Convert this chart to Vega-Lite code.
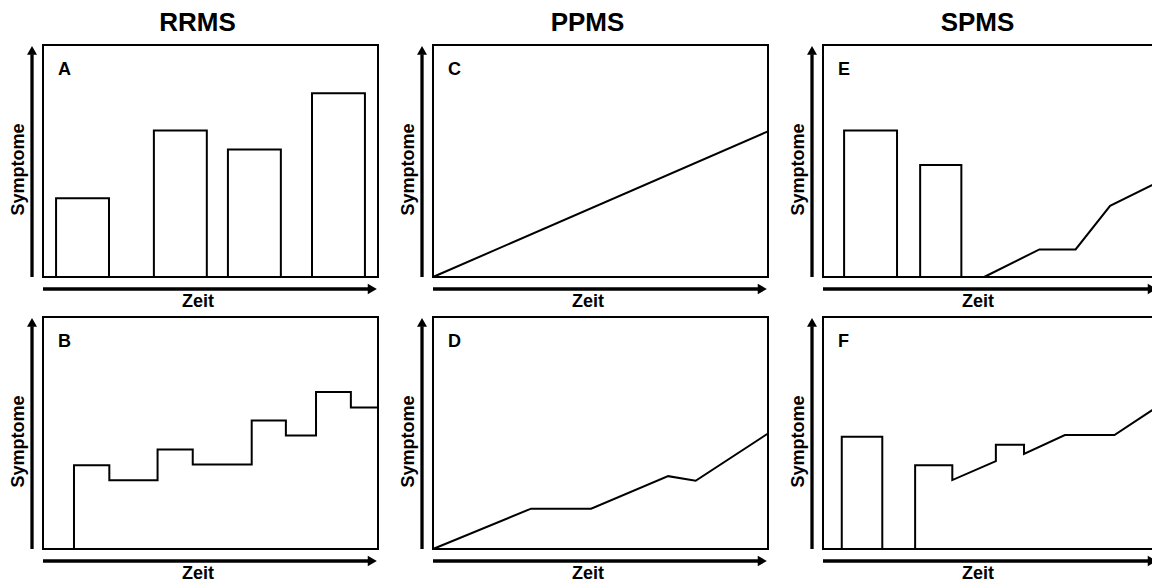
{
  "$schema": "https://vega.github.io/schema/vega-lite/v6.json",
  "padding": {"left": 9, "top": 10, "right": 0, "bottom": 0},
  "data": {"values": [
    {"type": "RRMS", "row": 1, "kind": "panel", "letter": "A"},
    {"type": "RRMS", "row": 2, "kind": "panel", "letter": "B"},
    {"type": "PPMS", "row": 1, "kind": "panel", "letter": "C"},
    {"type": "PPMS", "row": 2, "kind": "panel", "letter": "D"},
    {"type": "SPMS", "row": 1, "kind": "panel", "letter": "E"},
    {"type": "SPMS", "row": 2, "kind": "panel", "letter": "F"},
    {"type": "RRMS", "row": 1, "kind": "bar", "x": 3.9, "x2": 19.7, "y": 33.9},
    {"type": "RRMS", "row": 1, "kind": "bar", "x": 33.1, "x2": 48.9, "y": 63.1},
    {"type": "RRMS", "row": 1, "kind": "bar", "x": 55.2, "x2": 71.0, "y": 55.0},
    {"type": "RRMS", "row": 1, "kind": "bar", "x": 80.3, "x2": 96.1, "y": 79.2},
    {"type": "SPMS", "row": 1, "kind": "bar", "x": 6.3, "x2": 22.1, "y": 63.1},
    {"type": "SPMS", "row": 1, "kind": "bar", "x": 29.0, "x2": 41.3, "y": 48.3},
    {"type": "SPMS", "row": 2, "kind": "bar", "x": 5.6, "x2": 17.7, "y": 48.4},
    {"type": "RRMS", "row": 2, "kind": "line", "order": 1, "x": 9.25, "y": 0},
    {"type": "RRMS", "row": 2, "kind": "line", "order": 2, "x": 9.25, "y": 36.1},
    {"type": "RRMS", "row": 2, "kind": "line", "order": 3, "x": 19.8, "y": 36.1},
    {"type": "RRMS", "row": 2, "kind": "line", "order": 4, "x": 19.8, "y": 29.6},
    {"type": "RRMS", "row": 2, "kind": "line", "order": 5, "x": 34.2, "y": 29.6},
    {"type": "RRMS", "row": 2, "kind": "line", "order": 6, "x": 34.2, "y": 42.9},
    {"type": "RRMS", "row": 2, "kind": "line", "order": 7, "x": 44.7, "y": 42.9},
    {"type": "RRMS", "row": 2, "kind": "line", "order": 8, "x": 44.7, "y": 36.4},
    {"type": "RRMS", "row": 2, "kind": "line", "order": 9, "x": 62.3, "y": 36.4},
    {"type": "RRMS", "row": 2, "kind": "line", "order": 10, "x": 62.3, "y": 55.4},
    {"type": "RRMS", "row": 2, "kind": "line", "order": 11, "x": 72.5, "y": 55.4},
    {"type": "RRMS", "row": 2, "kind": "line", "order": 12, "x": 72.5, "y": 48.9},
    {"type": "RRMS", "row": 2, "kind": "line", "order": 13, "x": 81.5, "y": 48.9},
    {"type": "RRMS", "row": 2, "kind": "line", "order": 14, "x": 81.5, "y": 67.7},
    {"type": "RRMS", "row": 2, "kind": "line", "order": 15, "x": 91.9, "y": 67.7},
    {"type": "RRMS", "row": 2, "kind": "line", "order": 16, "x": 91.9, "y": 61.0},
    {"type": "RRMS", "row": 2, "kind": "line", "order": 17, "x": 100, "y": 61.0},
    {"type": "PPMS", "row": 1, "kind": "line", "order": 1, "x": 0, "y": 0},
    {"type": "PPMS", "row": 1, "kind": "line", "order": 2, "x": 100, "y": 62.8},
    {"type": "PPMS", "row": 2, "kind": "line", "order": 1, "x": 0, "y": 0},
    {"type": "PPMS", "row": 2, "kind": "line", "order": 2, "x": 29.3, "y": 17.4},
    {"type": "PPMS", "row": 2, "kind": "line", "order": 3, "x": 47.2, "y": 17.4},
    {"type": "PPMS", "row": 2, "kind": "line", "order": 4, "x": 70.2, "y": 31.4},
    {"type": "PPMS", "row": 2, "kind": "line", "order": 5, "x": 78.4, "y": 29.4},
    {"type": "PPMS", "row": 2, "kind": "line", "order": 6, "x": 100, "y": 49.8},
    {"type": "SPMS", "row": 1, "kind": "line", "order": 1, "x": 48.1, "y": 0},
    {"type": "SPMS", "row": 1, "kind": "line", "order": 2, "x": 64.6, "y": 11.9},
    {"type": "SPMS", "row": 1, "kind": "line", "order": 3, "x": 75.4, "y": 11.9},
    {"type": "SPMS", "row": 1, "kind": "line", "order": 4, "x": 85.7, "y": 30.7},
    {"type": "SPMS", "row": 1, "kind": "line", "order": 5, "x": 100, "y": 40.9},
    {"type": "SPMS", "row": 2, "kind": "line", "order": 1, "x": 27.5, "y": 0},
    {"type": "SPMS", "row": 2, "kind": "line", "order": 2, "x": 27.5, "y": 36.1},
    {"type": "SPMS", "row": 2, "kind": "line", "order": 3, "x": 38.6, "y": 36.1},
    {"type": "SPMS", "row": 2, "kind": "line", "order": 4, "x": 38.6, "y": 29.7},
    {"type": "SPMS", "row": 2, "kind": "line", "order": 5, "x": 51.6, "y": 37.9},
    {"type": "SPMS", "row": 2, "kind": "line", "order": 6, "x": 51.6, "y": 44.9},
    {"type": "SPMS", "row": 2, "kind": "line", "order": 7, "x": 60.0, "y": 44.9},
    {"type": "SPMS", "row": 2, "kind": "line", "order": 8, "x": 60.0, "y": 41.0},
    {"type": "SPMS", "row": 2, "kind": "line", "order": 9, "x": 72.2, "y": 49.1},
    {"type": "SPMS", "row": 2, "kind": "line", "order": 10, "x": 87.0, "y": 49.1},
    {"type": "SPMS", "row": 2, "kind": "line", "order": 11, "x": 100, "y": 61.5}
  ]},
  "facet": {
    "column": {"field": "type", "type": "nominal", "sort": ["RRMS", "PPMS", "SPMS"], "title": null,
      "header": {"labelFontSize": 26, "labelFontWeight": "bold", "labelFont": "Liberation Sans", "labelColor": "black", "labelPadding": -13, "labelBaseline": "alphabetic"}},
    "row": {"field": "row", "type": "ordinal", "title": null, "header": {"labels": false}}
  },
  "spacing": {"column": 17, "row": 6},
  "resolve": {"axis": {"x": "independent", "y": "independent"}},
  "spec": {
    "width": 361,
    "height": 248,
    "layer": [
      {
        "transform": [{"filter": "datum.kind === 'panel'"}],
        "mark": {"type": "rect", "fillOpacity": 0, "stroke": "black", "strokeWidth": 2},
        "encoding": {
          "x": {"datum": 0, "type": "quantitative",
            "scale": {"domain": [-7.761, 100], "nice": false, "zero": false},
            "axis": {"title": "Zeit", "labels": false, "ticks": false, "domain": false, "grid": false,
              "titleFontSize": 18, "titleFontWeight": "bold", "titleFont": "Liberation Sans", "titleColor": "black", "titlePadding": -1}},
          "x2": {"datum": 100},
          "y": {"datum": 0, "type": "quantitative",
            "scale": {"domain": [-6.897, 100], "nice": false, "zero": false},
            "axis": {"title": "Symptome", "labels": false, "ticks": false, "domain": false, "grid": false,
              "titleFontSize": 18, "titleFontWeight": "bold", "titleFont": "Liberation Sans", "titleColor": "black", "titlePadding": -10}},
          "y2": {"datum": 100}
        }
      },
      {
        "transform": [{"filter": "datum.kind === 'bar'"}],
        "mark": {"type": "rect", "fill": "white", "stroke": "black", "strokeWidth": 2},
        "encoding": {
          "x": {"field": "x", "type": "quantitative"},
          "x2": {"field": "x2"},
          "y": {"field": "y", "type": "quantitative"},
          "y2": {"datum": 0}
        }
      },
      {
        "transform": [{"filter": "datum.kind === 'line'"}],
        "mark": {"type": "line", "color": "black", "strokeWidth": 2},
        "encoding": {
          "x": {"field": "x", "type": "quantitative"},
          "y": {"field": "y", "type": "quantitative"},
          "order": {"field": "order", "type": "quantitative"}
        }
      },
      {
        "transform": [{"filter": "datum.kind === 'panel'"}],
        "mark": {"type": "rule", "color": "black", "strokeWidth": 3.3},
        "encoding": {
          "x": {"datum": -3.28, "type": "quantitative"},
          "y": {"datum": 0, "type": "quantitative"},
          "y2": {"datum": 96}
        }
      },
      {
        "transform": [{"filter": "datum.kind === 'panel'"}],
        "mark": {"type": "point", "shape": "triangle-up", "filled": true, "color": "black", "size": 100, "opacity": 1},
        "encoding": {
          "x": {"datum": -3.28, "type": "quantitative"},
          "y": {"datum": 97.7, "type": "quantitative"}
        }
      },
      {
        "transform": [{"filter": "datum.kind === 'panel'"}],
        "mark": {"type": "rule", "color": "black", "strokeWidth": 3.3},
        "encoding": {
          "x": {"datum": 0, "type": "quantitative"},
          "x2": {"datum": 97.3},
          "y": {"datum": -5.17, "type": "quantitative"}
        }
      },
      {
        "transform": [{"filter": "datum.kind === 'panel'"}],
        "mark": {"type": "point", "shape": "triangle-right", "filled": true, "color": "black", "size": 110, "opacity": 1},
        "encoding": {
          "x": {"datum": 98.3, "type": "quantitative"},
          "y": {"datum": -5.17, "type": "quantitative"}
        }
      },
      {
        "transform": [{"filter": "datum.kind === 'panel'"}],
        "mark": {"type": "text", "align": "left", "baseline": "alphabetic", "fontSize": 18, "fontWeight": "bold", "font": "Liberation Sans", "color": "black"},
        "encoding": {
          "x": {"datum": 4.48, "type": "quantitative"},
          "y": {"datum": 87.07, "type": "quantitative"},
          "text": {"field": "letter"}
        }
      }
    ]
  },
  "config": {"view": {"stroke": null}, "font": "Liberation Sans"}
}
